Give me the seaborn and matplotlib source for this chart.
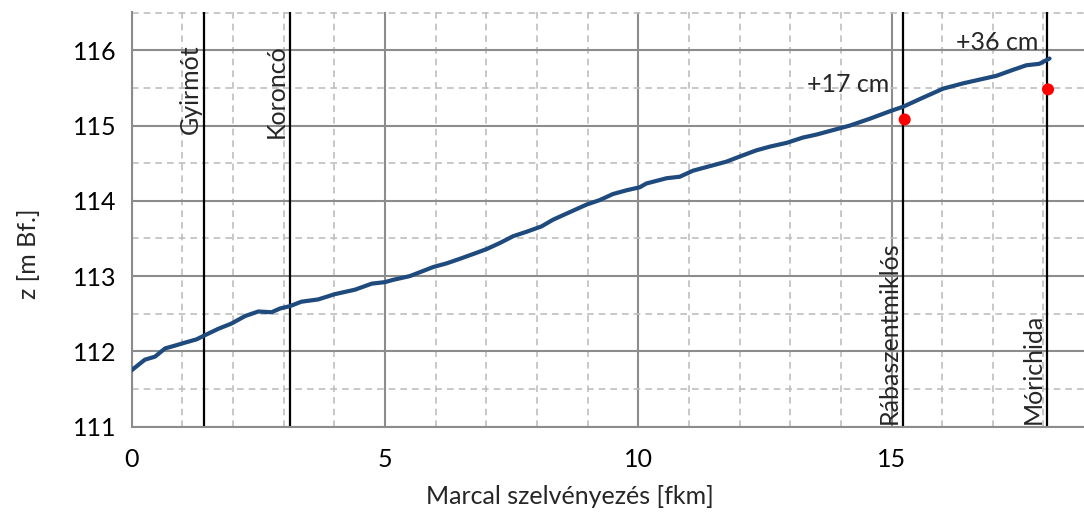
import matplotlib
matplotlib.use("Agg")
import matplotlib.pyplot as plt
import seaborn as sns
import pandas as pd
from matplotlib.ticker import MultipleLocator

# ---- data ----
fkm = [0.00, 0.26, 0.46, 0.66, 0.82, 1.02, 1.28, 1.43, 1.71, 1.97, 2.24, 2.50, 2.76, 2.93,
       3.12, 3.35, 3.68, 4.01, 4.41, 4.74, 5.00, 5.16, 5.49, 5.76, 5.95, 6.22, 6.48, 6.81,
       7.01, 7.27, 7.53, 7.80, 8.09, 8.32, 8.65, 8.98, 9.24, 9.50, 9.77, 10.03, 10.16,
       10.56, 10.82, 11.08, 11.41, 11.74, 12.01, 12.33, 12.60, 12.93, 13.25, 13.52, 13.85,
       14.18, 14.57, 14.97, 15.23, 15.62, 16.02, 16.41, 16.74, 17.07, 17.40, 17.66, 17.92,
       18.12]
z = [111.75, 111.89, 111.93, 112.04, 112.07, 112.11, 112.16, 112.21, 112.30, 112.37, 112.47,
     112.53, 112.52, 112.57, 112.60, 112.66, 112.69, 112.76, 112.82, 112.90, 112.92, 112.95,
     113.00, 113.07, 113.12, 113.17, 113.23, 113.31, 113.36, 113.44, 113.53, 113.59, 113.66,
     113.75, 113.85, 113.95, 114.01, 114.09, 114.14, 114.18, 114.23, 114.30, 114.32, 114.40,
     114.46, 114.52, 114.59, 114.67, 114.72, 114.77, 114.84, 114.88, 114.94, 115.00, 115.09,
     115.19, 115.25, 115.37, 115.49, 115.56, 115.61, 115.66, 115.74, 115.80, 115.82, 115.89]

obs_fkm = [15.26, 18.09]
obs_z = [115.08, 115.48]

stations = ["Gyirmót", "Koroncó", "Rábaszentmiklós", "Mórichida"]
station_fkm = [1.42, 3.12, 15.23, 18.07]

diff_labels = ["+17 cm", "+36 cm"]

df = pd.DataFrame({"fkm": fkm, "z": z})
obs = pd.DataFrame({"fkm": obs_fkm, "z": obs_z})

# ---- plot ----
sns.set_style("white")
plt.rcParams["font.family"] = ["Lato", "DejaVu Sans"]
FS = 18

fig = plt.figure(figsize=(10.84, 5.15), dpi=100)
ax = fig.add_axes([0.1215, 0.1715, 0.8785, 0.8055])

ax.set_xlim(0, 18.8)
ax.set_ylim(111, 116.51)
ax.xaxis.set_major_locator(MultipleLocator(5))
ax.xaxis.set_minor_locator(MultipleLocator(1))
ax.yaxis.set_major_locator(MultipleLocator(1))
ax.yaxis.set_minor_locator(MultipleLocator(0.5))

ax.grid(which="major", color="#8c8c8c", linewidth=1.5, linestyle="-", zorder=0)
ax.grid(which="minor", color="#bfbfbf", linewidth=1.2, linestyle=(0, (4, 3)), zorder=0)
ax.set_axisbelow(True)

for s in ["top", "right"]:
    ax.spines[s].set_visible(False)
for s in ["left", "bottom"]:
    ax.spines[s].set_color("#8c8c8c")
    ax.spines[s].set_linewidth(1.5)

ax.tick_params(which="major", direction="out", length=7, width=1.5, color="#8c8c8c",
               labelsize=FS, labelcolor="black", pad=4)
ax.tick_params(which="minor", length=0)
ax.tick_params(axis="x", pad=8)

for name, xs in zip(stations, station_fkm):
    ax.axvline(xs, color="black", linewidth=1.6, zorder=2)

ax.text(station_fkm[0] - 0.04, 116.08, stations[0], rotation=90, ha="right", va="top",
        fontsize=FS)
ax.text(station_fkm[1] - 0.04, 116.08, stations[1], rotation=90, ha="right", va="top",
        fontsize=FS)
ax.text(station_fkm[2] - 0.04, 111.03, stations[2], rotation=90, ha="right", va="bottom",
        fontsize=FS)
ax.text(station_fkm[3] - 0.04, 111.03, stations[3], rotation=90, ha="right", va="bottom",
        fontsize=FS)

sns.lineplot(data=df, x="fkm", y="z", ax=ax, color="#1f4a7d", linewidth=3.0, zorder=3)
sns.scatterplot(data=obs, x="fkm", y="z", ax=ax, color="#ff0000", s=75,
                edgecolor="none", zorder=4)

ax.text(14.95, 115.55, diff_labels[0], ha="right", va="center", fontsize=FS)
ax.text(17.9, 116.1, diff_labels[1], ha="right", va="center", fontsize=FS)

ax.set_xlabel("Marcal szelvényezés [fkm]", fontsize=FS)
ax.set_ylabel("z [m Bf.]", fontsize=FS)
ax.xaxis.set_label_coords(0.46, -0.14)
ax.yaxis.set_label_coords(-0.096, 0.416)

fig.savefig("out.png", dpi=100)
